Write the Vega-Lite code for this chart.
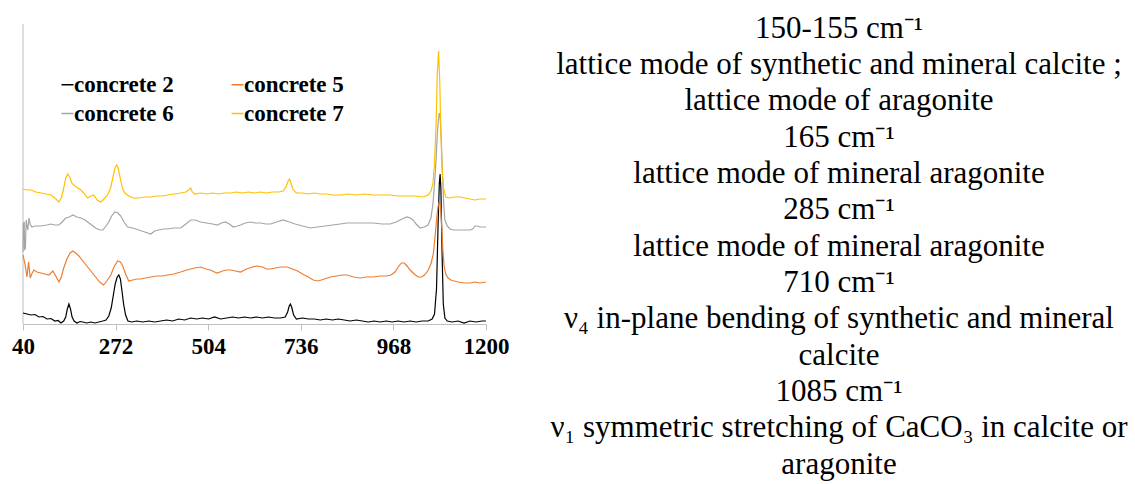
{
 "$schema": "https://vega.github.io/schema/vega-lite/v6.json",
 "padding": {"left": 11, "top": 12, "right": 0, "bottom": 0},
 "bounds": "flush",
 "spacing": 63,
 "config": {"view": {"stroke": null}, "font": "Liberation Serif"},
 "hconcat": [
  {
   "width": 463,
   "height": 312,
   "layer": [
    {
     "data": {"values": [{"axis": "y"}]},
     "mark": {"type": "rule", "color": "#BFBFBF", "strokeWidth": 1},
     "encoding": {
      "x": {"datum": 40, "type": "quantitative", "scale": {"domain": [40, 1200], "nice": false, "zero": false},
            "axis": {"values": [40, 272, 504, 736, 968, 1200], "format": "d", "title": null, "grid": false,
                     "domainColor": "#BFBFBF", "tickColor": "#BFBFBF", "tickSize": 6,
                     "labelFont": "Liberation Serif", "labelFontWeight": "bold", "labelFontSize": 23,
                     "labelColor": "#000000", "labelPadding": 5, "labelFlush": false, "labelOverlap": false}},
      "y": {"datum": 0, "type": "quantitative", "scale": {"domain": [0, 312], "nice": false}, "axis": null},
      "y2": {"datum": 300}
     }
    },
    {
     "data": {"values": [
{"s":"concrete 2","w":40,"v":11},{"s":"concrete 2","w":50,"v":10},{"s":"concrete 2","w":60,"v":9},{"s":"concrete 2","w":70,"v":9.5},{"s":"concrete 2","w":80,"v":7},{"s":"concrete 2","w":90,"v":7.5},{"s":"concrete 2","w":100,"v":5},{"s":"concrete 2","w":110,"v":5.5},{"s":"concrete 2","w":120,"v":3},{"s":"concrete 2","w":128,"v":3.5},{"s":"concrete 2","w":135,"v":1},{"s":"concrete 2","w":142,"v":3},{"s":"concrete 2","w":147,"v":7},{"s":"concrete 2","w":151,"v":15},{"s":"concrete 2","w":155,"v":20},{"s":"concrete 2","w":159,"v":15},{"s":"concrete 2","w":163,"v":7},{"s":"concrete 2","w":168,"v":3},{"s":"concrete 2","w":175,"v":1},{"s":"concrete 2","w":183,"v":2.5},{"s":"concrete 2","w":190,"v":2},{"s":"concrete 2","w":200,"v":1},{"s":"concrete 2","w":210,"v":2},{"s":"concrete 2","w":220,"v":1},{"s":"concrete 2","w":230,"v":2},{"s":"concrete 2","w":240,"v":3},{"s":"concrete 2","w":248,"v":4},{"s":"concrete 2","w":255,"v":8},{"s":"concrete 2","w":261,"v":16},{"s":"concrete 2","w":266,"v":28},{"s":"concrete 2","w":271,"v":40},{"s":"concrete 2","w":276,"v":47},{"s":"concrete 2","w":280,"v":49},{"s":"concrete 2","w":284,"v":45},{"s":"concrete 2","w":288,"v":33},{"s":"concrete 2","w":292,"v":20},{"s":"concrete 2","w":297,"v":9},{"s":"concrete 2","w":303,"v":3},{"s":"concrete 2","w":312,"v":2},{"s":"concrete 2","w":325,"v":3},{"s":"concrete 2","w":340,"v":2},{"s":"concrete 2","w":355,"v":3},{"s":"concrete 2","w":370,"v":2},{"s":"concrete 2","w":385,"v":3},{"s":"concrete 2","w":400,"v":4},{"s":"concrete 2","w":415,"v":3},{"s":"concrete 2","w":430,"v":5},{"s":"concrete 2","w":445,"v":4},{"s":"concrete 2","w":460,"v":6},{"s":"concrete 2","w":475,"v":5},{"s":"concrete 2","w":490,"v":6},{"s":"concrete 2","w":505,"v":5},{"s":"concrete 2","w":520,"v":7},{"s":"concrete 2","w":535,"v":5},{"s":"concrete 2","w":550,"v":6},{"s":"concrete 2","w":565,"v":7},{"s":"concrete 2","w":580,"v":6},{"s":"concrete 2","w":595,"v":7},{"s":"concrete 2","w":610,"v":6},{"s":"concrete 2","w":625,"v":7},{"s":"concrete 2","w":640,"v":6},{"s":"concrete 2","w":655,"v":7},{"s":"concrete 2","w":670,"v":6},{"s":"concrete 2","w":685,"v":6},{"s":"concrete 2","w":697,"v":7},{"s":"concrete 2","w":703,"v":12},{"s":"concrete 2","w":707,"v":18},{"s":"concrete 2","w":710,"v":20},{"s":"concrete 2","w":713,"v":17},{"s":"concrete 2","w":718,"v":9},{"s":"concrete 2","w":725,"v":5},{"s":"concrete 2","w":740,"v":6},{"s":"concrete 2","w":755,"v":5},{"s":"concrete 2","w":770,"v":5},{"s":"concrete 2","w":785,"v":4},{"s":"concrete 2","w":800,"v":5},{"s":"concrete 2","w":815,"v":4},{"s":"concrete 2","w":830,"v":5},{"s":"concrete 2","w":845,"v":4},{"s":"concrete 2","w":860,"v":3},{"s":"concrete 2","w":875,"v":4},{"s":"concrete 2","w":890,"v":3},{"s":"concrete 2","w":905,"v":2},{"s":"concrete 2","w":920,"v":3},{"s":"concrete 2","w":935,"v":2},{"s":"concrete 2","w":950,"v":3},{"s":"concrete 2","w":965,"v":2},{"s":"concrete 2","w":980,"v":3},{"s":"concrete 2","w":995,"v":2},{"s":"concrete 2","w":1010,"v":3},{"s":"concrete 2","w":1025,"v":2},{"s":"concrete 2","w":1040,"v":3},{"s":"concrete 2","w":1055,"v":3},{"s":"concrete 2","w":1065,"v":5},{"s":"concrete 2","w":1071,"v":10},{"s":"concrete 2","w":1076,"v":35},{"s":"concrete 2","w":1080,"v":100},{"s":"concrete 2","w":1083,"v":140},{"s":"concrete 2","w":1085,"v":150},{"s":"concrete 2","w":1087,"v":135},{"s":"concrete 2","w":1090,"v":70},{"s":"concrete 2","w":1093,"v":20},{"s":"concrete 2","w":1097,"v":6},{"s":"concrete 2","w":1103,"v":3},{"s":"concrete 2","w":1115,"v":2},{"s":"concrete 2","w":1130,"v":3},{"s":"concrete 2","w":1145,"v":1},{"s":"concrete 2","w":1160,"v":3},{"s":"concrete 2","w":1175,"v":2},{"s":"concrete 2","w":1190,"v":3},{"s":"concrete 2","w":1200,"v":3},
{"s":"concrete 5","w":40,"v":69},{"s":"concrete 5","w":45,"v":60},{"s":"concrete 5","w":50,"v":47},{"s":"concrete 5","w":54,"v":62},{"s":"concrete 5","w":58,"v":46},{"s":"concrete 5","w":62,"v":50},{"s":"concrete 5","w":67,"v":54},{"s":"concrete 5","w":75,"v":52},{"s":"concrete 5","w":85,"v":51},{"s":"concrete 5","w":95,"v":50},{"s":"concrete 5","w":105,"v":49},{"s":"concrete 5","w":115,"v":53},{"s":"concrete 5","w":122,"v":48},{"s":"concrete 5","w":130,"v":42},{"s":"concrete 5","w":136,"v":47},{"s":"concrete 5","w":142,"v":56},{"s":"concrete 5","w":150,"v":65},{"s":"concrete 5","w":158,"v":71},{"s":"concrete 5","w":165,"v":73},{"s":"concrete 5","w":172,"v":71},{"s":"concrete 5","w":180,"v":68},{"s":"concrete 5","w":190,"v":63},{"s":"concrete 5","w":202,"v":57},{"s":"concrete 5","w":212,"v":52},{"s":"concrete 5","w":222,"v":47},{"s":"concrete 5","w":232,"v":42},{"s":"concrete 5","w":242,"v":39},{"s":"concrete 5","w":250,"v":43},{"s":"concrete 5","w":260,"v":49},{"s":"concrete 5","w":268,"v":57},{"s":"concrete 5","w":277,"v":63},{"s":"concrete 5","w":284,"v":62},{"s":"concrete 5","w":290,"v":58},{"s":"concrete 5","w":297,"v":50},{"s":"concrete 5","w":305,"v":43},{"s":"concrete 5","w":315,"v":44},{"s":"concrete 5","w":325,"v":45},{"s":"concrete 5","w":335,"v":45},{"s":"concrete 5","w":347,"v":46},{"s":"concrete 5","w":360,"v":47},{"s":"concrete 5","w":375,"v":48},{"s":"concrete 5","w":390,"v":48},{"s":"concrete 5","w":402,"v":49},{"s":"concrete 5","w":418,"v":50},{"s":"concrete 5","w":435,"v":52},{"s":"concrete 5","w":450,"v":54},{"s":"concrete 5","w":470,"v":56},{"s":"concrete 5","w":485,"v":57},{"s":"concrete 5","w":498,"v":55},{"s":"concrete 5","w":510,"v":54},{"s":"concrete 5","w":520,"v":52},{"s":"concrete 5","w":527,"v":51},{"s":"concrete 5","w":540,"v":53},{"s":"concrete 5","w":550,"v":54},{"s":"concrete 5","w":560,"v":54},{"s":"concrete 5","w":572,"v":53},{"s":"concrete 5","w":585,"v":52},{"s":"concrete 5","w":600,"v":55},{"s":"concrete 5","w":615,"v":57},{"s":"concrete 5","w":627,"v":58},{"s":"concrete 5","w":640,"v":57},{"s":"concrete 5","w":650,"v":55},{"s":"concrete 5","w":660,"v":55},{"s":"concrete 5","w":672,"v":56},{"s":"concrete 5","w":685,"v":57},{"s":"concrete 5","w":702,"v":57},{"s":"concrete 5","w":715,"v":55},{"s":"concrete 5","w":728,"v":53},{"s":"concrete 5","w":740,"v":50},{"s":"concrete 5","w":755,"v":47},{"s":"concrete 5","w":767,"v":44},{"s":"concrete 5","w":780,"v":43},{"s":"concrete 5","w":795,"v":45},{"s":"concrete 5","w":810,"v":47},{"s":"concrete 5","w":825,"v":48},{"s":"concrete 5","w":840,"v":49},{"s":"concrete 5","w":852,"v":49},{"s":"concrete 5","w":868,"v":47},{"s":"concrete 5","w":885,"v":46},{"s":"concrete 5","w":900,"v":47},{"s":"concrete 5","w":917,"v":47},{"s":"concrete 5","w":935,"v":48},{"s":"concrete 5","w":950,"v":48},{"s":"concrete 5","w":962,"v":49},{"s":"concrete 5","w":972,"v":52},{"s":"concrete 5","w":980,"v":57},{"s":"concrete 5","w":988,"v":61},{"s":"concrete 5","w":995,"v":61},{"s":"concrete 5","w":1002,"v":58},{"s":"concrete 5","w":1010,"v":54},{"s":"concrete 5","w":1020,"v":50},{"s":"concrete 5","w":1030,"v":47},{"s":"concrete 5","w":1038,"v":47},{"s":"concrete 5","w":1046,"v":49},{"s":"concrete 5","w":1054,"v":53},{"s":"concrete 5","w":1062,"v":60},{"s":"concrete 5","w":1068,"v":70},{"s":"concrete 5","w":1073,"v":90},{"s":"concrete 5","w":1077,"v":108},{"s":"concrete 5","w":1080,"v":118},{"s":"concrete 5","w":1083,"v":122},{"s":"concrete 5","w":1086,"v":118},{"s":"concrete 5","w":1089,"v":98},{"s":"concrete 5","w":1092,"v":74},{"s":"concrete 5","w":1095,"v":58},{"s":"concrete 5","w":1099,"v":50},{"s":"concrete 5","w":1105,"v":46},{"s":"concrete 5","w":1112,"v":44},{"s":"concrete 5","w":1120,"v":43},{"s":"concrete 5","w":1130,"v":42},{"s":"concrete 5","w":1145,"v":41},{"s":"concrete 5","w":1160,"v":41},{"s":"concrete 5","w":1172,"v":42},{"s":"concrete 5","w":1185,"v":41},{"s":"concrete 5","w":1200,"v":42},
{"s":"concrete 6","w":40,"v":72},{"s":"concrete 6","w":41,"v":100},{"s":"concrete 6","w":43,"v":102},{"s":"concrete 6","w":44,"v":74},{"s":"concrete 6","w":46,"v":76},{"s":"concrete 6","w":48,"v":104},{"s":"concrete 6","w":50,"v":98},{"s":"concrete 6","w":52,"v":94},{"s":"concrete 6","w":55,"v":106},{"s":"concrete 6","w":58,"v":100},{"s":"concrete 6","w":62,"v":97},{"s":"concrete 6","w":70,"v":98},{"s":"concrete 6","w":85,"v":98},{"s":"concrete 6","w":100,"v":99},{"s":"concrete 6","w":110,"v":100},{"s":"concrete 6","w":120,"v":99},{"s":"concrete 6","w":130,"v":99},{"s":"concrete 6","w":138,"v":102},{"s":"concrete 6","w":147,"v":106},{"s":"concrete 6","w":156,"v":107},{"s":"concrete 6","w":165,"v":109},{"s":"concrete 6","w":175,"v":107},{"s":"concrete 6","w":185,"v":106},{"s":"concrete 6","w":195,"v":104},{"s":"concrete 6","w":202,"v":102},{"s":"concrete 6","w":212,"v":99},{"s":"concrete 6","w":222,"v":96},{"s":"concrete 6","w":232,"v":94},{"s":"concrete 6","w":240,"v":94},{"s":"concrete 6","w":248,"v":98},{"s":"concrete 6","w":255,"v":102},{"s":"concrete 6","w":262,"v":108},{"s":"concrete 6","w":270,"v":112},{"s":"concrete 6","w":278,"v":111},{"s":"concrete 6","w":285,"v":108},{"s":"concrete 6","w":293,"v":102},{"s":"concrete 6","w":302,"v":97},{"s":"concrete 6","w":315,"v":96},{"s":"concrete 6","w":330,"v":94},{"s":"concrete 6","w":345,"v":92},{"s":"concrete 6","w":360,"v":90},{"s":"concrete 6","w":370,"v":93},{"s":"concrete 6","w":380,"v":94},{"s":"concrete 6","w":392,"v":95},{"s":"concrete 6","w":402,"v":95},{"s":"concrete 6","w":418,"v":96},{"s":"concrete 6","w":435,"v":96},{"s":"concrete 6","w":448,"v":100},{"s":"concrete 6","w":460,"v":104},{"s":"concrete 6","w":472,"v":104},{"s":"concrete 6","w":485,"v":102},{"s":"concrete 6","w":500,"v":101},{"s":"concrete 6","w":515,"v":100},{"s":"concrete 6","w":527,"v":99},{"s":"concrete 6","w":537,"v":101},{"s":"concrete 6","w":547,"v":102},{"s":"concrete 6","w":557,"v":100},{"s":"concrete 6","w":567,"v":97},{"s":"concrete 6","w":577,"v":98},{"s":"concrete 6","w":585,"v":99},{"s":"concrete 6","w":597,"v":101},{"s":"concrete 6","w":610,"v":102},{"s":"concrete 6","w":622,"v":101},{"s":"concrete 6","w":635,"v":101},{"s":"concrete 6","w":648,"v":100},{"s":"concrete 6","w":660,"v":100},{"s":"concrete 6","w":675,"v":102},{"s":"concrete 6","w":692,"v":104},{"s":"concrete 6","w":707,"v":102},{"s":"concrete 6","w":722,"v":100},{"s":"concrete 6","w":740,"v":98},{"s":"concrete 6","w":760,"v":96},{"s":"concrete 6","w":778,"v":97},{"s":"concrete 6","w":797,"v":98},{"s":"concrete 6","w":815,"v":99},{"s":"concrete 6","w":835,"v":100},{"s":"concrete 6","w":852,"v":101},{"s":"concrete 6","w":872,"v":101},{"s":"concrete 6","w":895,"v":101},{"s":"concrete 6","w":917,"v":101},{"s":"concrete 6","w":940,"v":100},{"s":"concrete 6","w":960,"v":100},{"s":"concrete 6","w":975,"v":102},{"s":"concrete 6","w":985,"v":104},{"s":"concrete 6","w":995,"v":106},{"s":"concrete 6","w":1002,"v":107},{"s":"concrete 6","w":1010,"v":106},{"s":"concrete 6","w":1017,"v":104},{"s":"concrete 6","w":1025,"v":100},{"s":"concrete 6","w":1035,"v":96},{"s":"concrete 6","w":1045,"v":97},{"s":"concrete 6","w":1055,"v":99},{"s":"concrete 6","w":1062,"v":106},{"s":"concrete 6","w":1067,"v":120},{"s":"concrete 6","w":1071,"v":140},{"s":"concrete 6","w":1075,"v":165},{"s":"concrete 6","w":1078,"v":190},{"s":"concrete 6","w":1081,"v":205},{"s":"concrete 6","w":1083,"v":211},{"s":"concrete 6","w":1085,"v":208},{"s":"concrete 6","w":1088,"v":185},{"s":"concrete 6","w":1091,"v":150},{"s":"concrete 6","w":1094,"v":120},{"s":"concrete 6","w":1097,"v":104},{"s":"concrete 6","w":1103,"v":98},{"s":"concrete 6","w":1110,"v":95},{"s":"concrete 6","w":1117,"v":94},{"s":"concrete 6","w":1130,"v":94},{"s":"concrete 6","w":1147,"v":94},{"s":"concrete 6","w":1160,"v":94},{"s":"concrete 6","w":1167,"v":95},{"s":"concrete 6","w":1172,"v":98},{"s":"concrete 6","w":1177,"v":98},{"s":"concrete 6","w":1185,"v":97},{"s":"concrete 6","w":1200,"v":97},
{"s":"concrete 7","w":40,"v":135},{"s":"concrete 7","w":50,"v":134},{"s":"concrete 7","w":60,"v":134},{"s":"concrete 7","w":72,"v":132},{"s":"concrete 7","w":85,"v":131},{"s":"concrete 7","w":97,"v":130},{"s":"concrete 7","w":110,"v":129},{"s":"concrete 7","w":120,"v":126},{"s":"concrete 7","w":130,"v":122},{"s":"concrete 7","w":137,"v":127},{"s":"concrete 7","w":142,"v":136},{"s":"concrete 7","w":147,"v":146},{"s":"concrete 7","w":152,"v":150},{"s":"concrete 7","w":157,"v":147},{"s":"concrete 7","w":162,"v":141},{"s":"concrete 7","w":170,"v":138},{"s":"concrete 7","w":177,"v":136},{"s":"concrete 7","w":185,"v":134},{"s":"concrete 7","w":192,"v":131},{"s":"concrete 7","w":202,"v":126},{"s":"concrete 7","w":210,"v":128},{"s":"concrete 7","w":217,"v":129},{"s":"concrete 7","w":226,"v":124},{"s":"concrete 7","w":235,"v":122},{"s":"concrete 7","w":243,"v":125},{"s":"concrete 7","w":252,"v":129},{"s":"concrete 7","w":260,"v":137},{"s":"concrete 7","w":266,"v":148},{"s":"concrete 7","w":271,"v":157},{"s":"concrete 7","w":275,"v":159},{"s":"concrete 7","w":279,"v":155},{"s":"concrete 7","w":284,"v":145},{"s":"concrete 7","w":289,"v":136},{"s":"concrete 7","w":295,"v":131},{"s":"concrete 7","w":305,"v":128},{"s":"concrete 7","w":317,"v":126},{"s":"concrete 7","w":330,"v":126},{"s":"concrete 7","w":345,"v":127},{"s":"concrete 7","w":360,"v":127},{"s":"concrete 7","w":375,"v":128},{"s":"concrete 7","w":390,"v":128},{"s":"concrete 7","w":402,"v":129},{"s":"concrete 7","w":418,"v":130},{"s":"concrete 7","w":435,"v":131},{"s":"concrete 7","w":448,"v":132},{"s":"concrete 7","w":455,"v":134},{"s":"concrete 7","w":460,"v":136},{"s":"concrete 7","w":464,"v":132},{"s":"concrete 7","w":470,"v":130},{"s":"concrete 7","w":485,"v":131},{"s":"concrete 7","w":500,"v":130},{"s":"concrete 7","w":515,"v":131},{"s":"concrete 7","w":530,"v":130},{"s":"concrete 7","w":545,"v":131},{"s":"concrete 7","w":560,"v":131},{"s":"concrete 7","w":575,"v":132},{"s":"concrete 7","w":590,"v":131},{"s":"concrete 7","w":605,"v":132},{"s":"concrete 7","w":620,"v":131},{"s":"concrete 7","w":635,"v":132},{"s":"concrete 7","w":650,"v":131},{"s":"concrete 7","w":665,"v":132},{"s":"concrete 7","w":680,"v":132},{"s":"concrete 7","w":692,"v":133},{"s":"concrete 7","w":700,"v":138},{"s":"concrete 7","w":705,"v":144},{"s":"concrete 7","w":708,"v":145},{"s":"concrete 7","w":712,"v":140},{"s":"concrete 7","w":717,"v":134},{"s":"concrete 7","w":725,"v":131},{"s":"concrete 7","w":740,"v":131},{"s":"concrete 7","w":755,"v":130},{"s":"concrete 7","w":770,"v":131},{"s":"concrete 7","w":785,"v":130},{"s":"concrete 7","w":800,"v":130},{"s":"concrete 7","w":815,"v":129},{"s":"concrete 7","w":835,"v":129},{"s":"concrete 7","w":855,"v":130},{"s":"concrete 7","w":875,"v":129},{"s":"concrete 7","w":897,"v":130},{"s":"concrete 7","w":915,"v":129},{"s":"concrete 7","w":935,"v":129},{"s":"concrete 7","w":960,"v":129},{"s":"concrete 7","w":980,"v":128},{"s":"concrete 7","w":1000,"v":128},{"s":"concrete 7","w":1020,"v":128},{"s":"concrete 7","w":1042,"v":127},{"s":"concrete 7","w":1055,"v":129},{"s":"concrete 7","w":1062,"v":133},{"s":"concrete 7","w":1067,"v":140},{"s":"concrete 7","w":1071,"v":160},{"s":"concrete 7","w":1075,"v":200},{"s":"concrete 7","w":1078,"v":250},{"s":"concrete 7","w":1081,"v":273},{"s":"concrete 7","w":1084,"v":245},{"s":"concrete 7","w":1087,"v":190},{"s":"concrete 7","w":1090,"v":155},{"s":"concrete 7","w":1094,"v":135},{"s":"concrete 7","w":1099,"v":127},{"s":"concrete 7","w":1107,"v":126},{"s":"concrete 7","w":1120,"v":127},{"s":"concrete 7","w":1135,"v":127},{"s":"concrete 7","w":1148,"v":126},{"s":"concrete 7","w":1160,"v":125},{"s":"concrete 7","w":1172,"v":124},{"s":"concrete 7","w":1185,"v":125},{"s":"concrete 7","w":1200,"v":125}
     ]},
     "mark": {"type": "line", "strokeWidth": 1.2},
     "encoding": {
      "x": {"field": "w", "type": "quantitative",
            "axis": {"values": [40, 272, 504, 736, 968, 1200], "format": "d", "title": null, "grid": false,
                     "domainColor": "#BFBFBF", "tickColor": "#BFBFBF", "tickSize": 6,
                     "labelFont": "Liberation Serif", "labelFontWeight": "bold", "labelFontSize": 23,
                     "labelColor": "#000000", "labelPadding": 5, "labelFlush": false, "labelOverlap": false}},
      "y": {"field": "v", "type": "quantitative", "axis": null},
      "color": {"field": "s", "type": "nominal",
                "scale": {"domain": ["concrete 2", "concrete 5", "concrete 6", "concrete 7"],
                          "range": ["#000000", "#ED7D31", "#A5A5A5", "#FFC000"]},
                "legend": {"title": null, "orient": "none", "legendX": 33, "legendY": 61,
                           "direction": "horizontal", "columns": 2, "symbolType": "stroke",
                           "symbolSize": 144, "symbolStrokeWidth": 1.5,
                           "labelFont": "Liberation Serif", "labelFontWeight": "bold", "labelFontSize": 23,
                           "labelColor": "#000000", "labelOffset": -5, "columnPadding": 52, "rowPadding": 5,
                           "labelLimit": 300}}
     }
    }
   ]
  },
  {
   "width": 580,
   "height": 472,
   "data": {"values": [
    {"line": 1, "t": "150-155 cm⁻¹"},
    {"line": 2, "t": "lattice mode of synthetic and mineral calcite ;"},
    {"line": 3, "t": "lattice mode of aragonite"},
    {"line": 4, "t": "165 cm⁻¹"},
    {"line": 5, "t": "lattice mode of mineral aragonite"},
    {"line": 6, "t": "285 cm⁻¹"},
    {"line": 7, "t": "lattice mode of mineral aragonite"},
    {"line": 8, "t": "710 cm⁻¹"},
    {"line": 9, "t": "ν₄ in-plane bending of synthetic and mineral"},
    {"line": 10, "t": "calcite"},
    {"line": 11, "t": "1085 cm⁻¹"},
    {"line": 12, "t": "ν₁ symmetric stretching of CaCO₃ in calcite or"},
    {"line": 13, "t": "aragonite"}
   ]},
   "mark": {"type": "text", "font": "Liberation Serif", "fontSize": 31, "baseline": "alphabetic", "align": "center", "color": "#000000"},
   "encoding": {
    "y": {"field": "line", "type": "ordinal", "scale": {"type": "point", "padding": 0.495, "align": 0.71}, "axis": null},
    "text": {"field": "t"}
   }
  }
 ]
}
